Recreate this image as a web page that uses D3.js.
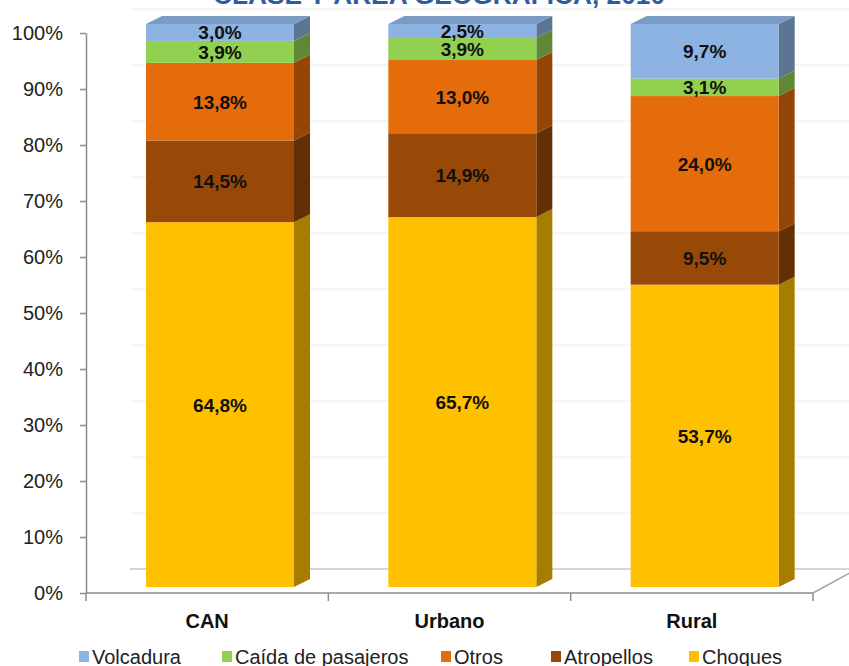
<!DOCTYPE html>
<html lang="es">
  <head>
    <meta charset="UTF-8" />
    <title>Clase y área geográfica, 2010</title>
    <style>
      body { margin: 0; background: #fff; }
      svg { display: block; font-family: "Liberation Sans", Arial, sans-serif; }
      .y-axis path, .y-axis line { stroke: #8c8c8c; stroke-width: 1.5; }
      .y-axis text { font-size: 20px; fill: #222; }
    </style>
  </head>
  <body>
    <div id="chart"></div>

    <script src="https://cdn.jsdelivr.net/npm/d3@7/dist/d3.min.js"></script>
    <script>

      // data (percent)
      var categories = ["CAN", "Urbano", "Rural"];
      var series = ["Choques", "Atropellos", "Otros", "Caída de pasajeros", "Volcadura"];
      var choques    = [64.8, 65.7, 53.7];
      var atropellos = [14.5, 14.9, 9.5];
      var otros      = [13.8, 13.0, 24.0];
      var caida      = [3.9, 3.9, 3.1];
      var volcadura  = [3.0, 2.5, 9.7];
      var yTicks = [0, 10, 20, 30, 40, 50, 60, 70, 80, 90, 100];
      var legendOrder = ["Volcadura", "Caída de pasajeros", "Otros", "Atropellos", "Choques"];
      var title = "CLASE Y ÁREA GEOGRÁFICA, 2010";

      var colors = {
        "Volcadura": "#8db3e2",
        "Caída de pasajeros": "#92d050",
        "Otros": "#e46c0a",
        "Atropellos": "#984807",
        "Choques": "#ffc000"
      };

      var w = 849,
          h = 666;
      var axisX = 86, axisRight = 813, floorY = 593;
      var depthX = 44, depthY = 24;   // floor depth
      var barDx = 16, barDy = 8;      // bar depth
      var barOffset = 60, barW = 148;

      var rows = categories.map(function(c, i) {
        return {
          cat: c,
          "Choques": choques[i],
          "Atropellos": atropellos[i],
          "Otros": otros[i],
          "Caída de pasajeros": caida[i],
          "Volcadura": volcadura[i]
        };
      });

      var stacked = d3.stack().keys(series)(rows);

      var svg = d3.select("#chart").append("svg")
        .attr("width", w)
        .attr("height", h);

      var xScale = d3.scaleBand()
                     .domain(categories)
                     .range([axisX, axisRight]);
      var yScale = d3.scaleLinear()
                     .domain([0, 100])
                     .range([floorY, 33]);
      var barY = d3.scaleLinear()
                   .domain([0, 100])
                   .range([587, 24]);
      var backY = d3.scaleLinear()
                    .domain([0, 100])
                    .range([floorY - depthY, 33 - depthY]);

      // title (only its lower edge shows)
      svg.append("text")
         .attr("x", 439)
         .attr("y", 4)
         .attr("text-anchor", "middle")
         .attr("textLength", 452)
         .attr("lengthAdjust", "spacingAndGlyphs")
         .style("font-size", "26px")
         .style("font-weight", "bold")
         .style("fill", "#2f5c9f")
         .text(title);

      // back wall gridlines
      svg.selectAll(".grid")
         .data(yTicks.slice(1))
         .enter()
         .append("line")
         .attr("class", "grid")
         .attr("x1", axisX + depthX)
         .attr("x2", w)
         .attr("y1", function(d) { return backY(d); })
         .attr("y2", function(d) { return backY(d); })
         .attr("stroke", "#ececec")
         .attr("stroke-width", 1);

      // floor
      svg.append("line")
         .attr("x1", axisX + depthX).attr("x2", w)
         .attr("y1", floorY - depthY).attr("y2", floorY - depthY)
         .attr("stroke", "#c8c8c8").attr("stroke-width", 1.5);
      svg.append("line")
         .attr("x1", axisRight).attr("y1", floorY)
         .attr("x2", axisRight + depthX).attr("y2", floorY - depthY)
         .attr("stroke", "#a6a6a6").attr("stroke-width", 1.5);
      svg.append("line")
         .attr("x1", axisX).attr("x2", axisRight)
         .attr("y1", floorY).attr("y2", floorY)
         .attr("stroke", "#8c8c8c").attr("stroke-width", 1.5);

      // x ticks at category boundaries
      var xEdges = categories.map(function(c) { return xScale(c); }).concat([axisRight]);
      svg.selectAll(".xtick")
         .data(xEdges)
         .enter()
         .append("line")
         .attr("class", "xtick")
         .attr("x1", function(d) { return d; })
         .attr("x2", function(d) { return d; })
         .attr("y1", floorY)
         .attr("y2", floorY + 8)
         .attr("stroke", "#8c8c8c")
         .attr("stroke-width", 1.5);

      svg.selectAll(".xlabel")
         .data(categories)
         .enter()
         .append("text")
         .attr("class", "xlabel")
         .attr("x", function(d) { return xScale(d) + xScale.bandwidth() / 2; })
         .attr("y", 628)
         .attr("text-anchor", "middle")
         .style("font-size", "20px")
         .style("font-weight", "bold")
         .style("fill", "#111")
         .text(function(d) { return d; });

      // y axis
      var yAxis = d3.axisLeft(yScale)
                    .tickValues(yTicks)
                    .tickSize(6)
                    .tickSizeOuter(0)
                    .tickPadding(17)
                    .tickFormat(function(d) { return d + "%"; });
      svg.append("g")
         .attr("class", "y-axis")
         .attr("transform", "translate(" + axisX + ",0)")
         .call(yAxis);

      // bars
      var fmt = d3.format(".1f");
      var bars = svg.append("g").attr("class", "bars");

      stacked.forEach(function(layer) {
        var key = layer.key;
        var front = colors[key];
        var side = d3.rgb(front).darker(1.2).formatHex();
        var top = d3.rgb(front).darker(0.4).formatHex();

        layer.forEach(function(d) {
          var x0 = xScale(d.data.cat) + barOffset;
          var x1 = x0 + barW;
          var yb = barY(d[0]);
          var yt = barY(d[1]);

          bars.append("polygon")
              .attr("points", [[x1, yb], [x1, yt], [x1 + barDx, yt - barDy], [x1 + barDx, yb - barDy]].join(" "))
              .attr("fill", side);

          bars.append("rect")
              .attr("x", x0)
              .attr("y", yt)
              .attr("width", barW)
              .attr("height", yb - yt)
              .attr("fill", front);

          if (key == series[series.length - 1]) {
            bars.append("polygon")
                .attr("points", [[x0, yt], [x1, yt], [x1 + barDx, yt - barDy], [x0 + barDx, yt - barDy]].join(" "))
                .attr("fill", top);
          }
        });
      });

      // value labels
      stacked.forEach(function(layer) {
        layer.forEach(function(d) {
          var x0 = xScale(d.data.cat) + barOffset;
          svg.append("text")
             .attr("x", x0 + barW / 2)
             .attr("y", (barY(d[0]) + barY(d[1])) / 2 + 7)
             .attr("text-anchor", "middle")
             .style("font-size", "19px")
             .style("font-weight", "bold")
             .style("fill", "#111")
             .text(fmt(d.data[layer.key]).replace(".", ",") + "%");
        });
      });

      // legend
      var legendX = [79, 222, 441, 551, 689];
      var legend = svg.selectAll(".legend")
         .data(legendOrder)
         .enter()
         .append("g")
         .attr("class", "legend")
         .attr("transform", function(d, i) { return "translate(" + legendX[i] + ",0)"; });
      legend.append("rect")
            .attr("x", 0)
            .attr("y", 651)
            .attr("width", 10)
            .attr("height", 11)
            .attr("fill", function(d) { return colors[d]; });
      legend.append("text")
            .attr("x", 13)
            .attr("y", 664)
            .style("font-size", "20px")
            .style("fill", "#222")
            .text(function(d) { return d; });

    </script>
  </body>
</html>
